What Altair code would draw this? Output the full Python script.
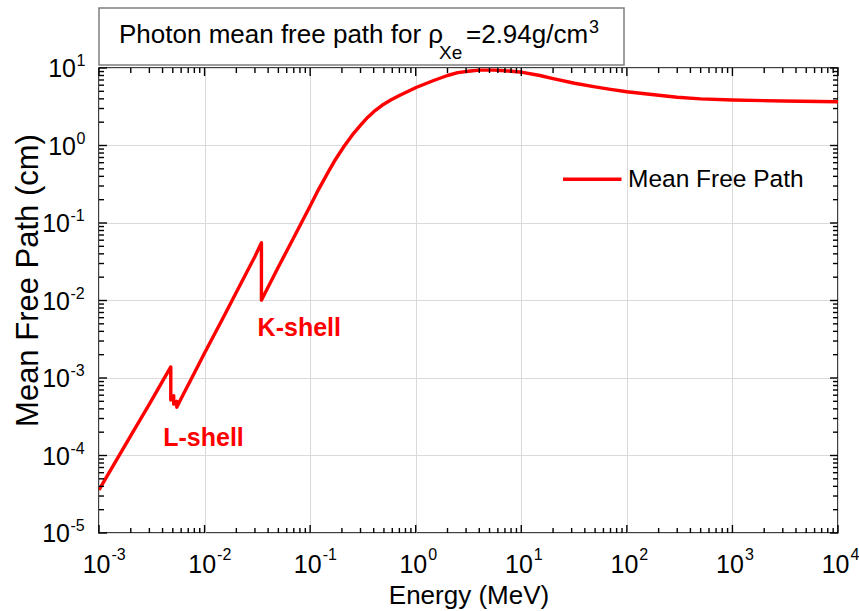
import altair as alt
import pandas as pd

# ---- data -------------------------------------------------------------
energy_mev = [0.001, 0.002, 0.003, 0.004, 0.004786, 0.004786, 0.0050, 0.005104,
              0.005104, 0.005453, 0.005453, 0.006, 0.008, 0.01, 0.015, 0.02,
              0.03, 0.03456, 0.03456, 0.04, 0.05, 0.07, 0.1, 0.12, 0.145, 0.17,
              0.209, 0.25, 0.302, 0.35, 0.403, 0.48, 0.58, 0.7, 0.85, 1.02,
              1.5, 2.0, 2.5, 3.3, 4.0, 5.5, 7.5, 10.3, 15.0, 20.0, 32.0, 50.0,
              70.0, 100.0, 200.0, 300.0, 500.0, 1000.0, 3000.0, 10000.0]
mfp_cm = [3.6e-5, 1.80e-4, 4.6e-4, 9.1e-4, 1.39e-3, 5.2e-4, 5.6e-4, 5.9e-4,
          4.6e-4, 5.0e-4, 4.2e-4, 5.45e-4, 1.16e-3, 2.1e-3, 6.0e-3, 1.28e-2,
          3.7e-2, 5.57e-2, 1.01e-2, 1.49e-2, 2.7e-2, 6.5e-2, 0.166, 0.27, 0.43, 0.63,
          0.97, 1.36, 1.84, 2.3, 2.75, 3.3, 3.86, 4.42, 5.0, 5.65,
          6.95, 8.0, 8.7, 9.15, 9.38, 9.38, 9.15, 8.8, 8.0, 7.3, 6.35, 5.7,
          5.3, 4.94, 4.45, 4.2, 4.0, 3.86, 3.75, 3.67]

x_decades = [-3, -2, -1, 0, 1, 2, 3, 4]
y_decades = [-5, -4, -3, -2, -1, 0, 1]
series_name = "Mean Free Path"
x_title = "Energy (MeV)"
y_title = "Mean Free Path (cm)"
title_parts = ["Photon mean free path for ρ", "Xe", "=2.94g/cm", "3"]
annotations = ["L-shell", "K-shell"]
annot_energy = [0.00406, 0.0318]
annot_mfp = [1.33e-4, 3.53e-3]

# ---- styling ------------------------------------------------------------
W, H = 739, 465
RED = "#ff0000"
FONT = "Liberation Sans, Arial, sans-serif"
GRID = "#dadada"

xs = alt.Scale(type="log", domain=[1e-3, 1e4])
ys = alt.Scale(type="log", domain=[1e-5, 10])

x_major = [10.0 ** e for e in x_decades]
y_major = [10.0 ** e for e in y_decades]
x_minor = [m * 10.0 ** e for e in x_decades[:-1] for m in range(2, 10)]
y_minor = [m * 10.0 ** e for e in y_decades[:-1] for m in range(2, 10)]

xaxis = alt.Axis(values=x_major, grid=True, gridColor=GRID, gridWidth=1,
                 labels=False, ticks=False, domain=False,
                 title=x_title, titleFont=FONT, titleFontSize=26,
                 titleFontWeight="normal", titleColor="black",
                 titleX=W / 2, titleY=70, titleAlign="center",
                 titleBaseline="alphabetic")
yaxis = alt.Axis(values=y_major, grid=True, gridColor=GRID, gridWidth=1,
                 labels=False, ticks=False, domain=False,
                 title=y_title, titleFont=FONT, titleFontSize=31,
                 titleFontWeight="normal", titleColor="black",
                 titleAngle=270, titleX=-62, titleY=212, titleAlign="center",
                 titleBaseline="alphabetic")

XE = alt.X("E:Q", scale=xs, axis=xaxis)
YM = alt.Y("M:Q", scale=ys, axis=yaxis)

curve_df = pd.DataFrame({"E": energy_mev, "M": mfp_cm,
                         "i": list(range(len(energy_mev)))})

curve = alt.Chart(curve_df).mark_line(color=RED, strokeWidth=3.4, clip=True,
                                      strokeJoin="round").encode(
    x=XE, y=YM, order="i:Q")

layers = [curve]


def xtick_layers(vals, L):
    df = pd.DataFrame({"E": vals})
    b = alt.Chart(df).mark_rule(color="black", strokeWidth=1.4).encode(
        x=XE, y=alt.value(H), y2=alt.value(H - L))
    t = alt.Chart(df).mark_rule(color="black", strokeWidth=1.4).encode(
        x=XE, y=alt.value(0), y2=alt.value(L))
    return [b, t]


def ytick_layers(vals, L):
    df = pd.DataFrame({"M": vals})
    l = alt.Chart(df).mark_rule(color="black", strokeWidth=1.4).encode(
        y=YM, x=alt.value(0), x2=alt.value(L))
    r = alt.Chart(df).mark_rule(color="black", strokeWidth=1.4).encode(
        y=YM, x=alt.value(W), x2=alt.value(W - L))
    return [l, r]


layers += xtick_layers(x_major, 8) + xtick_layers(x_minor, 5)
layers += ytick_layers(y_major, 8) + ytick_layers(y_minor, 5)

# tick labels 10^n with real superscripts
xl = pd.DataFrame({"E": x_major, "b": ["10"] * len(x_major),
                   "s": [str(e) for e in x_decades]})
layers.append(alt.Chart(xl).mark_text(font=FONT, fontSize=25, align="right",
                                      baseline="alphabetic", dx=11.5).encode(
    x=XE, y=alt.value(H + 40), text="b:N"))
layers.append(alt.Chart(xl).mark_text(font=FONT, fontSize=16, align="left",
                                      baseline="alphabetic", dx=12.5).encode(
    x=XE, y=alt.value(H + 27), text="s:N"))

yl = pd.DataFrame({"M": y_major, "b": ["10"] * len(y_major),
                   "s": [str(e) for e in y_decades], "e": y_decades})
for cond, bx in (("datum.e < 0", -29), ("datum.e >= 0", -23)):
    layers.append(alt.Chart(yl).transform_filter(cond).mark_text(
        font=FONT, fontSize=25, align="right", baseline="alphabetic",
        dy=9).encode(y=YM, x=alt.value(bx), text="b:N"))
    layers.append(alt.Chart(yl).transform_filter(cond).mark_text(
        font=FONT, fontSize=16, align="left", baseline="alphabetic",
        dy=-2).encode(y=YM, x=alt.value(bx + 0.5), text="s:N"))

# edge annotations
ann_df = pd.DataFrame({"E": annot_energy, "M": annot_mfp, "t": annotations})
layers.append(alt.Chart(ann_df).mark_text(
    font=FONT, fontSize=25, fontWeight="bold", color=RED, align="left",
    baseline="alphabetic").encode(x=XE, y=YM, text="t:N"))

# legend
one = pd.DataFrame({"t": [series_name]})
layers.append(alt.Chart(one).mark_rule(color=RED, strokeWidth=3.4).encode(
    x=alt.value(464), x2=alt.value(522.5), y=alt.value(111.3)))
layers.append(alt.Chart(one).mark_text(
    font=FONT, fontSize=24.5, align="left", baseline="alphabetic").encode(
    x=alt.value(529), y=alt.value(119), text="t:N"))

# title box
layers.append(alt.Chart(one).mark_rect(fill="white", stroke="#7f7f7f",
                                       strokeWidth=1.5).encode(
    x=alt.value(0), x2=alt.value(525), y=alt.value(-60), y2=alt.value(-3)))
tp = pd.DataFrame({"t": title_parts})
title_x = [20, 340, 367, 490]
title_y = [-25, -9, -25, -35]
title_fs = [26, 19, 26, 18]
for k in range(4):
    layers.append(alt.Chart(tp.iloc[[k]]).mark_text(
        font=FONT, fontSize=title_fs[k], align="left",
        baseline="alphabetic").encode(
        x=alt.value(title_x[k]), y=alt.value(title_y[k]), text="t:N"))

chart = alt.layer(*layers).properties(
    width=W, height=H,
    padding={"left": 99, "top": 68, "right": 21, "bottom": 78},
    autosize=alt.AutoSizeParams(type="none"),
    background="white",
).configure_view(stroke="black", strokeWidth=1.5)

chart.save("out.html", embed_options={"renderer": "svg", "actions": False})
